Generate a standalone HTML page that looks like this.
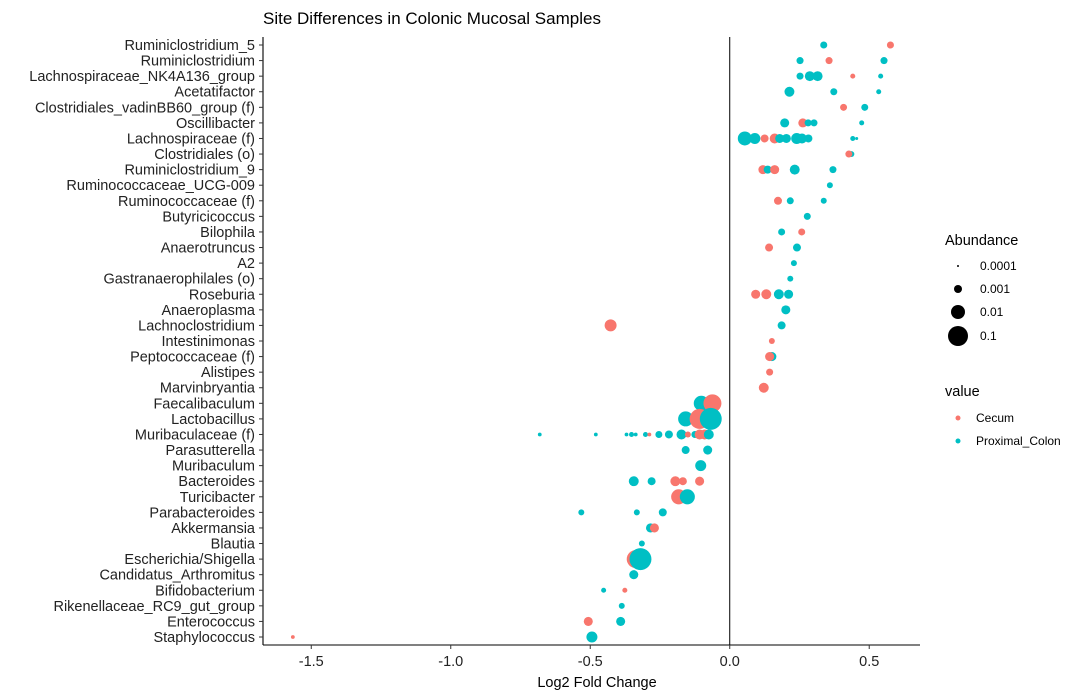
<!DOCTYPE html>
<html><head><meta charset="utf-8"><style>
html,body{margin:0;padding:0;background:#fff;}
svg{display:block;font-family:"Liberation Sans",Arial,sans-serif;}
</style></head><body>
<svg id="chart" width="1083" height="697" viewBox="0 0 1083 697">
<text x="263" y="24" font-size="17" fill="#000">Site Differences in Colonic Mucosal Samples</text>
<g id="plot"></g>
<text x="597" y="687" font-size="14.5" fill="#000" text-anchor="middle">Log2 Fold Change</text>
<g id="legend"></g>
</svg>
<script>
const taxa = ["Ruminiclostridium_5","Ruminiclostridium","Lachnospiraceae_NK4A136_group","Acetatifactor","Clostridiales_vadinBB60_group (f)","Oscillibacter","Lachnospiraceae (f)","Clostridiales (o)","Ruminiclostridium_9","Ruminococcaceae_UCG-009","Ruminococcaceae (f)","Butyricicoccus","Bilophila","Anaerotruncus","A2","Gastranaerophilales (o)","Roseburia","Anaeroplasma","Lachnoclostridium","Intestinimonas","Peptococcaceae (f)","Alistipes","Marvinbryantia","Faecalibaculum","Lactobacillus","Muribaculaceae (f)","Parasutterella","Muribaculum","Bacteroides","Turicibacter","Parabacteroides","Akkermansia","Blautia","Escherichia/Shigella","Candidatus_Arthromitus","Bifidobacterium","Rikenellaceae_RC9_gut_group","Enterococcus","Staphylococcus"];
const xTicks = [-1.5,-1.0,-0.5,0.0,0.5];
const xTickLabels = ["-1.5","-1.0","-0.5","0.0","0.5"];
const groups = ["Cecum","Proximal_Colon"];
// points: taxon index, log2 fold change, abundance, group index
const ptTaxon = [0,0, 1,1,1, 2,2,2,2,2, 3,3,3, 4,4, 5,5,5,5,5,
 6,6,6,6,6,6,6,6,6,6,6, 7,7, 8,8,8,8,8, 9, 10,10,10, 11, 12,12, 13,13, 14, 15,
 16,16,16,16, 17, 18,18, 19, 20,20, 21, 22,
 23,23, 24,24,24, 25,25,25,25,25,25,25,25,25,25,25,25,25,25,25, 26,26, 27,
 28,28,28,28,28, 29,29, 30,30,30, 31,31, 32, 33,33, 34, 35,35, 36, 37,37, 38,38];
const ptLfc = [0.337,0.576, 0.252,0.356,0.553, 0.252,0.287,0.315,0.441,0.541, 0.214,0.373,0.534, 0.408,0.484, 0.197,0.262,0.281,0.302,0.473,
 0.054,0.090,0.125,0.161,0.179,0.203,0.240,0.259,0.282,0.441,0.455, 0.436,0.427, 0.119,0.136,0.161,0.233,0.370, 0.359, 0.173,0.217,0.337, 0.278, 0.186,0.258, 0.141,0.241, 0.230, 0.217,
 0.093,0.131,0.176,0.211, 0.201, 0.186,-0.427, 0.151, 0.151,0.143, 0.143, 0.122,
 -0.102,-0.062, -0.158,-0.108,-0.068, -0.681,-0.480,-0.370,-0.352,-0.337,-0.302,-0.288,-0.254,-0.218,-0.173,-0.150,-0.125,-0.108,-0.090,-0.075, -0.158,-0.079, -0.104,
 -0.344,-0.280,-0.195,-0.168,-0.108, -0.183,-0.152, -0.532,-0.333,-0.240, -0.284,-0.270, -0.315, -0.337,-0.320, -0.344, -0.452,-0.376, -0.387, -0.507,-0.391, -0.494,-1.566];
const ptAbund = [0.0007,0.0007, 0.0007,0.0007,0.0007, 0.00068,0.0021,0.0021,0.00032,0.00032, 0.0021,0.00068,0.00032, 0.00068,0.00068, 0.0015,0.0015,0.0007,0.0007,0.00032,
 0.01,0.0032,0.001,0.0021,0.0015,0.0015,0.0032,0.0021,0.001,0.00032,0.00015, 0.00046,0.00068, 0.0015,0.001,0.0015,0.0021,0.00068, 0.00046, 0.001,0.00068,0.00046, 0.00068, 0.00068,0.00068, 0.001,0.001, 0.00046, 0.00046,
 0.0015,0.0021,0.0021,0.0015, 0.0015, 0.001,0.0046, 0.00046, 0.0015,0.0015, 0.00068, 0.0021,
 0.015,0.046, 0.015,0.1,0.21, 0.0002,0.0002,0.0002,0.00032,0.0002,0.00032,0.0002,0.00068,0.001,0.0021,0.00046,0.00068,0.0021,0.0021,0.0021, 0.001,0.0015, 0.0032,
 0.0021,0.001,0.0021,0.001,0.0015, 0.015,0.015, 0.00046,0.00046,0.001, 0.0015,0.0015, 0.00046, 0.046,0.21, 0.0015, 0.00032,0.00032, 0.00046, 0.0015,0.0015, 0.0032,0.0002];
const ptGroup = [1,0, 1,0,1, 1,1,1,0,1, 1,1,1, 0,1, 1,0,1,1,1,
 1,1,0,0,1,1,1,1,1,1,1, 1,0, 0,1,0,1,1, 1, 0,1,1, 1, 1,0, 0,1, 1, 1,
 0,0,1,1, 1, 1,0, 0, 1,0, 0, 0,
 1,0, 1,0,1, 1,1,1,1,1,1,0,1,1,1,0,1,0,0,1, 1,1, 1,
 1,1,0,0,0, 0,1, 1,1,1, 1,0, 1, 0,1, 1, 1,0, 1, 0,1, 1,0];
const legendBreaks = [0.0001,0.001,0.01,0.1];
const legendLabels = ["0.0001","0.001","0.01","0.1"];

const NS="http://www.w3.org/2000/svg";
const colors=["#F8766D","#00BFC4"];
const L=263,R=920,T=37,B=645;
const xMin=-1.673,xMax=0.682;
function xs(v){return L+(v-xMin)/(xMax-xMin)*(R-L);}
function ys(i){return 45+i*(637-45)/(taxa.length-1);}
function rs(a){let r=1+3*(Math.log10(a)+4);return Math.max(1,r);}
function mk(tag,attrs,parent){const e=document.createElementNS(NS,tag);for(const k in attrs)e.setAttribute(k,attrs[k]);parent.appendChild(e);return e;}
const plot=document.getElementById('plot');
// vline at zero
let vl=mk('line',{x1:xs(0),x2:xs(0),y1:T,y2:B,stroke:'#000','stroke-width':1},plot);


// points
for(let i=0;i<ptTaxon.length;i++){
  const c=mk('circle',{cx:xs(ptLfc[i]),cy:ys(ptTaxon[i]),r:rs(ptAbund[i]),fill:colors[ptGroup[i]]},plot);
  
  
}
// axes
let ax=mk('line',{x1:L,x2:R,y1:B,y2:B,stroke:'#000','stroke-width':1.1},plot);


let ay=mk('line',{x1:L,x2:L,y1:T,y2:B,stroke:'#000','stroke-width':1.1},plot);


xTicks.forEach((v,i)=>{
  mk('line',{x1:xs(v),x2:xs(v),y1:B,y2:B+4,stroke:'#333'},plot);
  const t=mk('text',{x:xs(v),y:B+21,'font-size':14.5,fill:'#222','text-anchor':'middle'},plot);
  t.textContent=xTickLabels[i];
  
  
});
taxa.forEach((n,i)=>{
  mk('line',{x1:L-4,x2:L,y1:ys(i),y2:ys(i),stroke:'#333'},plot);
  const t=mk('text',{x:L-8,y:ys(i)+5,'font-size':14.5,fill:'#222','text-anchor':'end'},plot);
  t.textContent=n;
  
  
});
// legend
const lg=document.getElementById('legend');
let tt=mk('text',{x:945,y:245,'font-size':14.5,fill:'#000'},lg);tt.textContent='Abundance';


const ly=[266,289,312,336];
legendBreaks.forEach((b,i)=>{
  mk('circle',{cx:958,cy:ly[i],r:rs(b),fill:'#000'},lg);
  const t=mk('text',{x:980,y:ly[i]+4,'font-size':12,fill:'#000'},lg);t.textContent=legendLabels[i];
  
  
});
let vt=mk('text',{x:945,y:396,'font-size':14.5,fill:'#000'},lg);vt.textContent='value';


groups.forEach((g,i)=>{
  const y=418+i*23;
  mk('circle',{cx:958,cy:y,r:2.5,fill:colors[i]},lg);
  const t=mk('text',{x:976,y:y+4,'font-size':12,fill:'#000'},lg);t.textContent=g;
  
  
});
</script>
</body></html>
